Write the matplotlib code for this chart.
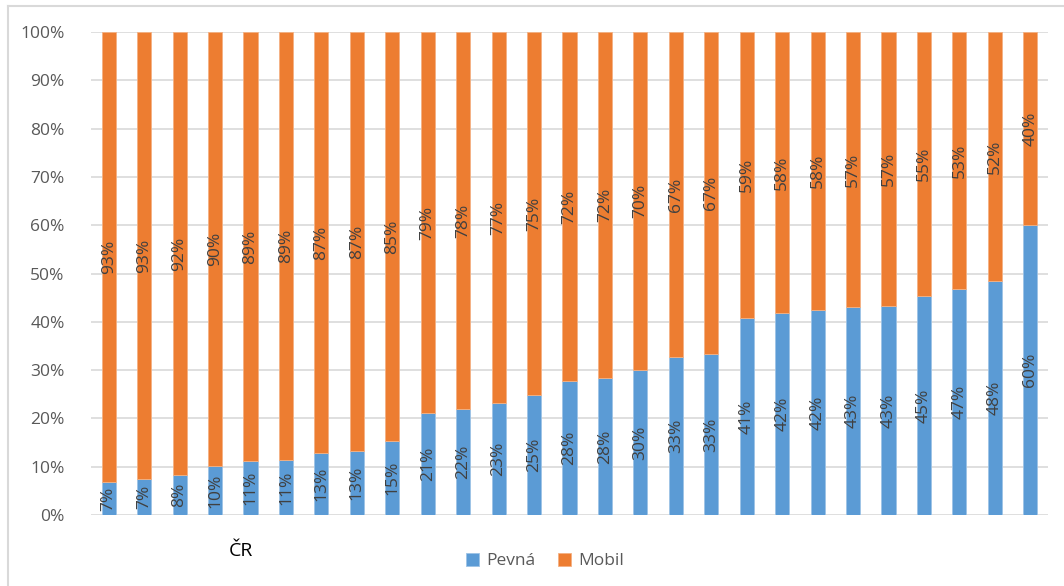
import numpy as np
import matplotlib.pyplot as plt
from matplotlib.lines import Line2D
from matplotlib.ticker import PercentFormatter

# Share of fixed vs mobile connections, per country (sorted by fixed share)
pevna = [6.8, 7.4, 8.3, 10.1, 11.2, 11.4, 12.8, 13.2, 15.3, 21.1, 21.9, 23.2, 24.8, 27.7,
         28.4, 30.0, 32.7, 33.3, 40.8, 41.8, 42.4, 43.0, 43.3, 45.4, 46.8, 48.4, 60.0]
mobil = [93.2, 92.6, 91.7, 89.9, 88.8, 88.6, 87.2, 86.8, 84.7, 78.9, 78.1, 76.8, 75.2, 72.3,
         71.6, 70.0, 67.3, 66.7, 59.2, 58.2, 57.6, 57.0, 56.7, 54.6, 53.2, 51.6, 40.0]
series_names = ["Pevná", "Mobil"]
colors = ["#5B9BD5", "#ED7D31"]
y_ticks = np.arange(0, 101, 10)

plt.rcParams["font.family"] = ["Open Sans", "DejaVu Sans"]

fig = plt.figure(figsize=(10.64, 5.86), dpi=100)
ax = fig.add_axes([91 / 1064, 1 - 515 / 586, 957 / 1064, 483 / 586])

x = np.arange(len(pevna))
b1 = ax.bar(x, pevna, width=0.4, color=colors[0], edgecolor="#9DC3E6",
            linewidth=0.6, label=series_names[0], zorder=3)
b2 = ax.bar(x, mobil, width=0.4, bottom=pevna, color=colors[1], edgecolor="#F4B183",
            linewidth=0.6, label=series_names[1], zorder=3)

# segment labels, rotated, centred in each segment
for bars, vals in ((b1, pevna), (b2, mobil)):
    ax.bar_label(bars, labels=[f"{v:.0f}%" for v in vals], label_type="center",
                 rotation=90, fontsize=12.5, color="#404040")

ax.set_xlim(-0.5, len(pevna) - 0.5)
ax.set_ylim(0, 100)
ax.set_yticks(y_ticks)
ax.yaxis.set_major_formatter(PercentFormatter(decimals=0))
ax.set_xticks([])
ax.tick_params(axis="y", length=0, pad=19, labelsize=12.5, labelcolor="#595959")
ax.grid(axis="y", color="#D9D9D9", linewidth=1.2, zorder=0)
for s in ax.spines.values():
    s.set_visible(False)

ax.text(3.73, -7.5, "ČR", ha="center", va="center", fontsize=14, color="#000000")

fig.legend(loc="center", bbox_to_anchor=(545 / 1064, 1 - 561 / 586), ncol=2,
           frameon=False, fontsize=12.5, handlelength=0.75, handleheight=0.75,
           columnspacing=1.3, handletextpad=0.4, labelcolor="#595959")

# grey frame edges (top and left) of the chart area
fx, fy = 8 / 1064, 1 - 6 / 586
fig.add_artist(Line2D([fx, 1.0], [fy, fy], transform=fig.transFigure,
                      color="#D9D9D9", linewidth=1.5))
fig.add_artist(Line2D([fx, fx], [0.0, fy], transform=fig.transFigure,
                      color="#D9D9D9", linewidth=1.5))

fig.savefig("out.png", dpi=100)
